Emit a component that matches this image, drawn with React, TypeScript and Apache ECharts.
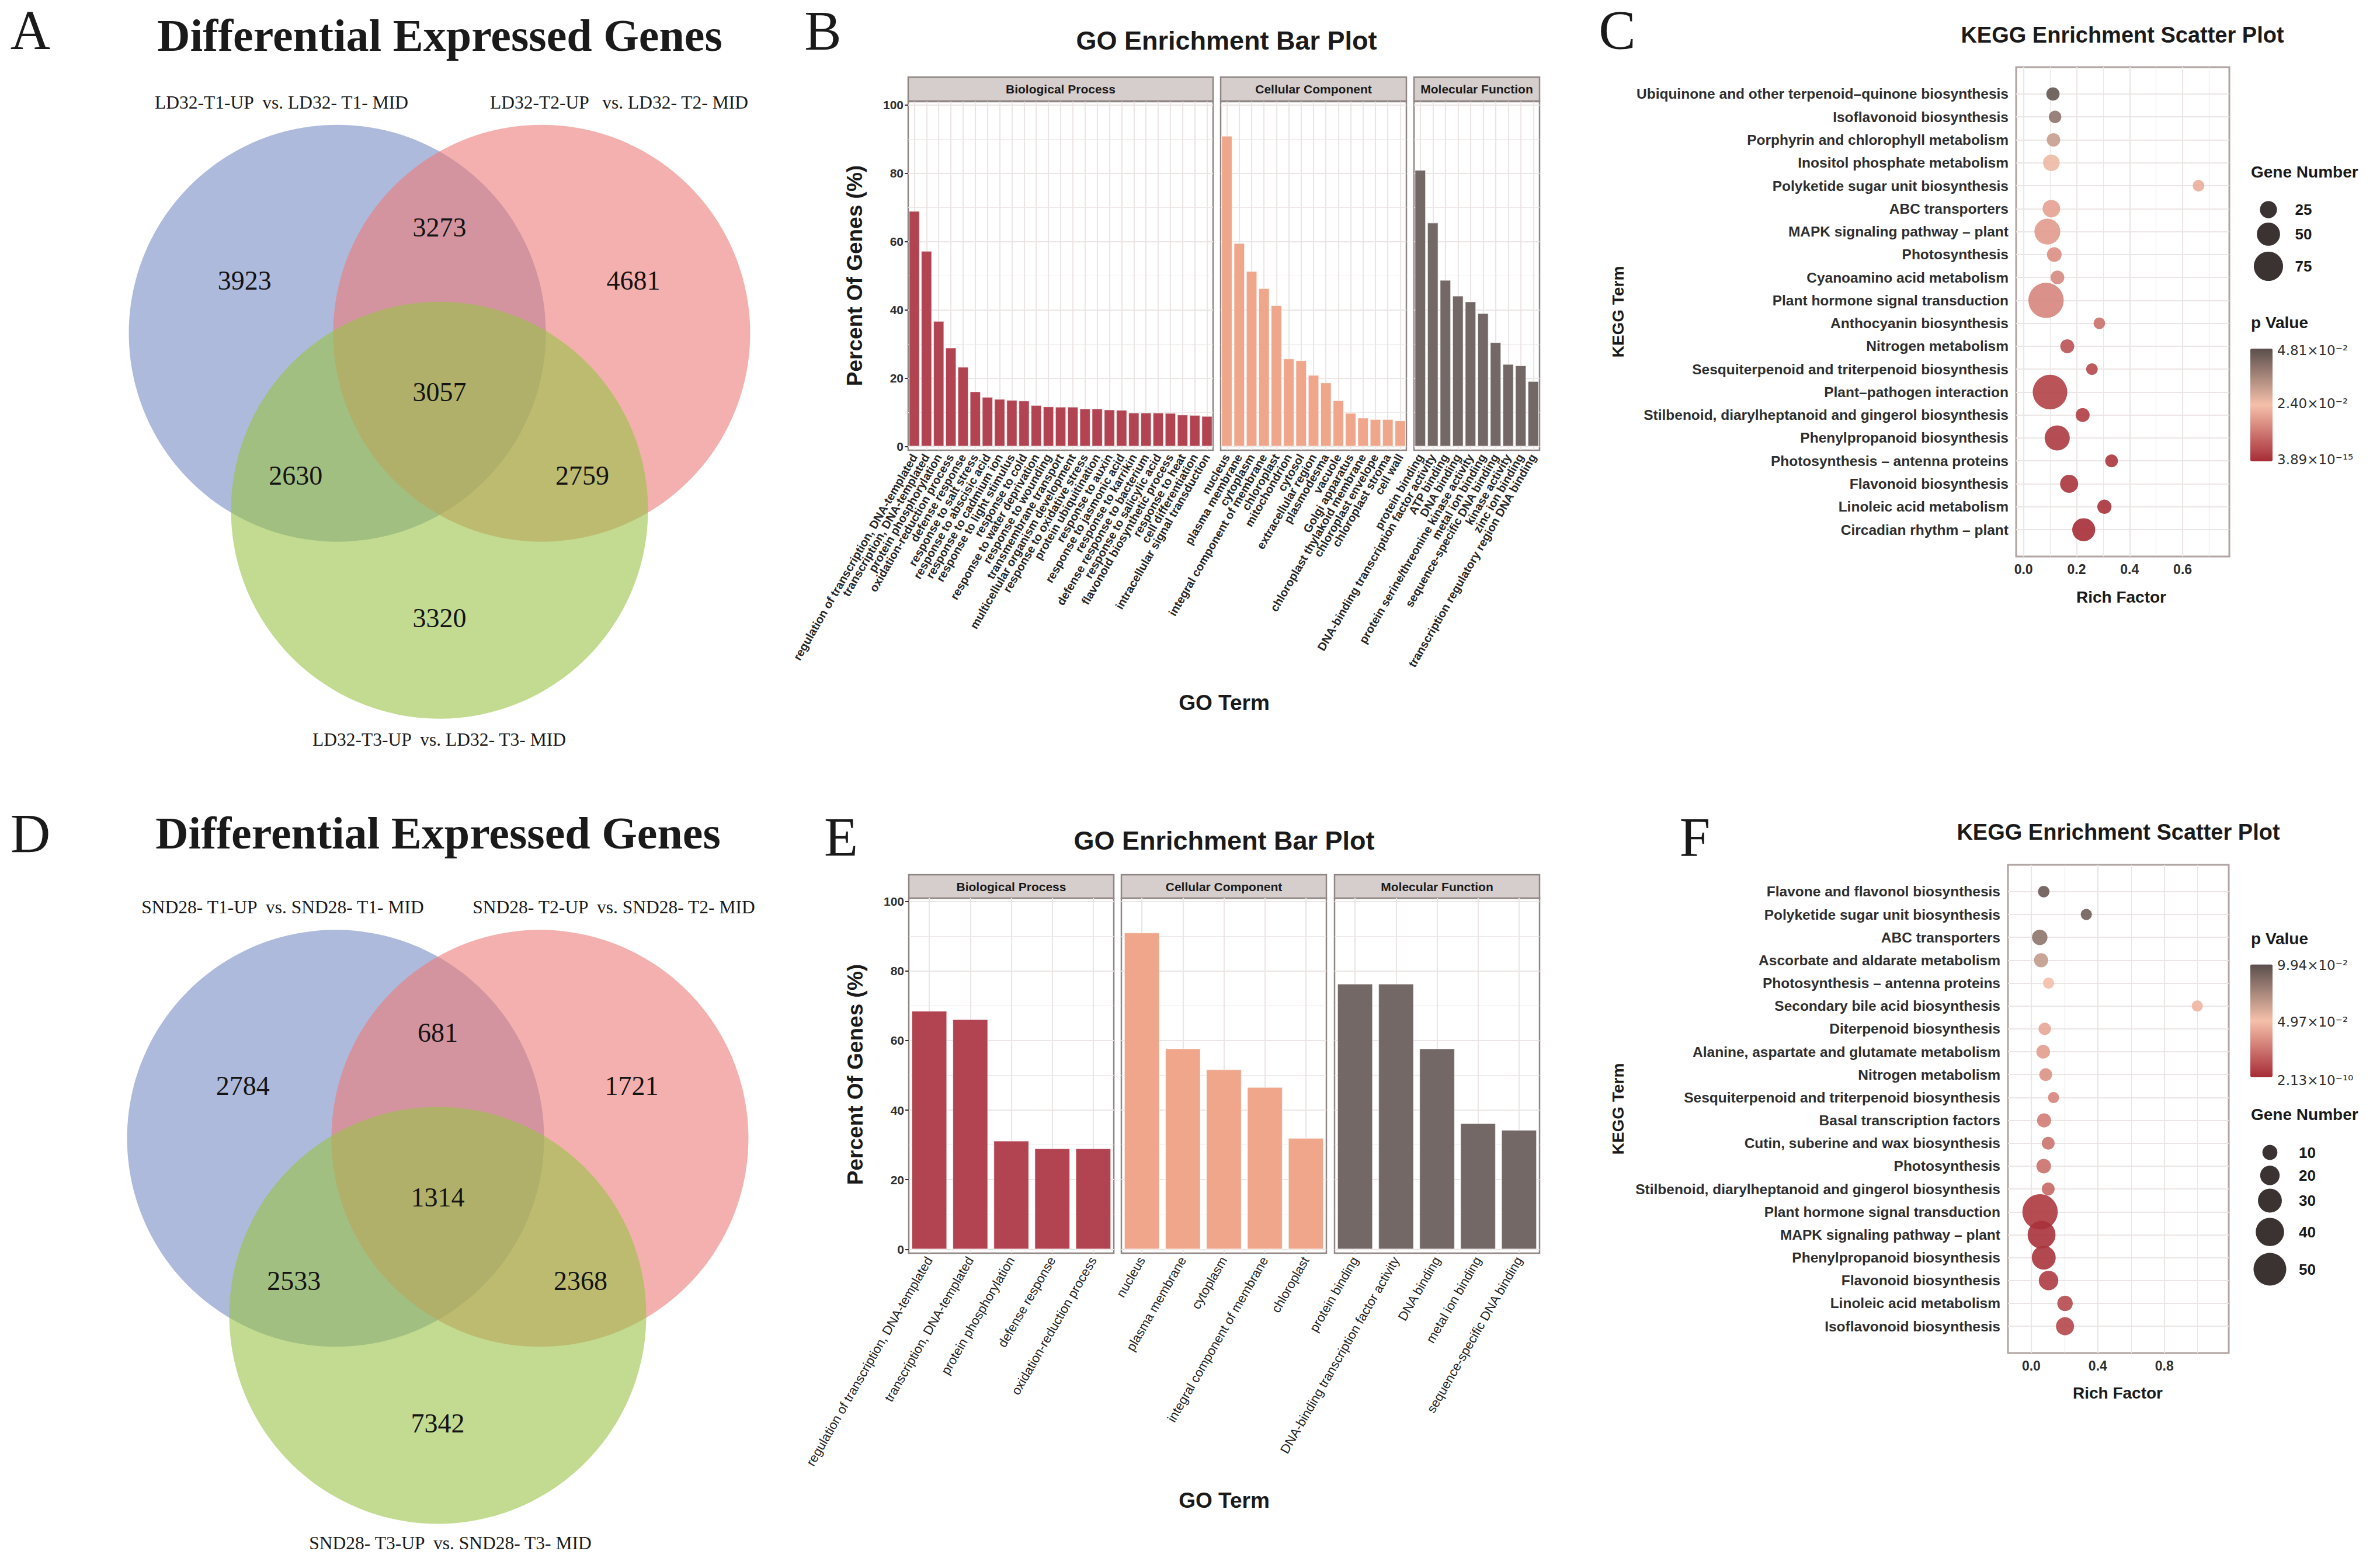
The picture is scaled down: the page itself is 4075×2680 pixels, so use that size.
import React, { useEffect, useRef } from "react";
import * as echarts from "echarts";

const W = 4075;
const H = 2680;
const SANS = '"Liberation Sans", Arial, Helvetica, sans-serif';
const SERIF = '"Liberation Serif", "Times New Roman", serif';
const MATH = '"DejaVu Sans", sans-serif';

// ---------------- Venn data ----------------
// region order: only1, 1∩2, only2, 1∩2∩3, 1∩3, 2∩3, only3
const vennSetsA = ["LD32-T1-UP  vs. LD32- T1- MID", "LD32-T2-UP   vs. LD32- T2- MID", "LD32-T3-UP  vs. LD32- T3- MID"];
const vennCountsA = [3923, 3273, 4681, 3057, 2630, 2759, 3320];
const vennSetsD = ["SND28- T1-UP  vs. SND28- T1- MID", "SND28- T2-UP  vs. SND28- T2- MID", "SND28- T3-UP  vs. SND28- T3- MID"];
const vennCountsD = [2784, 681, 1721, 1314, 2533, 2368, 7342];

// ---------------- GO (panel B) ----------------
const bpTermsB = [
  "regulation of transcription, DNA-templated", "transcription, DNA-templated", "protein phosphorylation",
  "oxidation-reduction process", "defense response", "response to salt stress", "response to abscisic acid",
  "response to cadmium ion", "response to light stimulus", "response to cold", "response to water deprivation",
  "response to wounding", "transmembrane transport", "multicellular organism development",
  "response to oxidative stress", "protein ubiquitination", "response to auxin", "response to jasmonic acid",
  "response to karrikin", "defense response to bacterium", "response to salicylic acid",
  "flavonoid biosynthetic process", "response to heat", "cell differentiation", "intracellular signal transduction",
];
const bpValuesB = [68.9, 57.2, 36.7, 28.9, 23.3, 16.1, 14.5, 13.9, 13.6, 13.4, 12.1, 11.7, 11.6, 11.6, 11.1, 11.1, 10.8, 10.7, 9.9, 9.9, 9.9, 9.8, 9.3, 9.2, 8.9];
const ccTermsB = [
  "nucleus", "plasma membrane", "cytoplasm", "integral component of membrane", "chloroplast", "mitochondrion",
  "cytosol", "extracellular region", "plasmodesma", "vacuole", "Golgi apparatus", "chloroplast thylakoid membrane",
  "chloroplast envelope", "chloroplast stroma", "cell wall",
];
const ccValuesB = [90.9, 59.5, 51.3, 46.3, 41.3, 25.7, 25.2, 20.9, 18.7, 13.5, 9.8, 8.4, 8.0, 8.0, 7.6];
const mfTermsB = [
  "protein binding", "DNA-binding transcription factor activity", "ATP binding", "DNA binding",
  "protein serine/threonine kinase activity", "metal ion binding", "sequence-specific DNA binding",
  "kinase activity", "zinc ion binding", "transcription regulatory region DNA binding",
];
const mfValuesB = [80.9, 65.5, 48.7, 44.1, 42.4, 39.0, 30.5, 24.1, 23.7, 19.1];

// ---------------- GO (panel E) ----------------
const bpTermsE = ["regulation of transcription, DNA-templated", "transcription, DNA-templated", "protein phosphorylation", "defense response", "oxidation-reduction process"];
const bpValuesE = [68.5, 66.1, 31.2, 29.0, 29.0];
const ccTermsE = ["nucleus", "plasma membrane", "cytoplasm", "integral component of membrane", "chloroplast"];
const ccValuesE = [91.0, 57.7, 51.7, 46.6, 32.0];
const mfTermsE = ["protein binding", "DNA-binding transcription factor activity", "DNA binding", "metal ion binding", "sequence-specific DNA binding"];
const mfValuesE = [76.3, 76.3, 57.7, 36.2, 34.3];

const facetNames = ["Biological Process", "Cellular Component", "Molecular Function"];
const percentTicks = [0, 20, 40, 60, 80, 100];
const percentMinor = [10, 30, 50, 70, 90];

// ---------------- KEGG (panel C) ----------------
const keggTermsC = [
  "Ubiquinone and other terpenoid–quinone biosynthesis", "Isoflavonoid biosynthesis",
  "Porphyrin and chlorophyll metabolism", "Inositol phosphate metabolism", "Polyketide sugar unit biosynthesis",
  "ABC transporters", "MAPK signaling pathway – plant", "Photosynthesis", "Cyanoamino acid metabolism",
  "Plant hormone signal transduction", "Anthocyanin biosynthesis", "Nitrogen metabolism",
  "Sesquiterpenoid and triterpenoid biosynthesis", "Plant–pathogen interaction",
  "Stilbenoid, diarylheptanoid and gingerol biosynthesis", "Phenylpropanoid biosynthesis",
  "Photosynthesis – antenna proteins", "Flavonoid biosynthesis", "Linoleic acid metabolism", "Circadian rhythm – plant",
];
const richC = [0.111, 0.119, 0.113, 0.105, 0.66, 0.105, 0.09, 0.116, 0.128, 0.085, 0.286, 0.165, 0.258, 0.1, 0.223, 0.127, 0.332, 0.172, 0.305, 0.227];
const genesC = [9, 6, 10, 23, 2, 27, 61, 15, 11, 100, 2, 12, 2, 97, 12, 58, 7, 29, 13, 49];
const pC = [0.0465, 0.04, 0.031, 0.0255, 0.021, 0.019, 0.018, 0.016, 0.015, 0.0145, 0.011, 0.006, 0.0045, 0.0035, 0.003, 0.0022, 0.0015, 0.0015, 0.001, 3.89e-15];
const pMaxC = 0.0481;
const pLabelsC = ["4.81×10⁻²", "2.40×10⁻²", "3.89×10⁻¹⁵"];
const geneLegendC = [25, 50, 75];
const richTicksC = [0, 0.2, 0.4, 0.6];
const richMinorC = [0.1, 0.3, 0.5, 0.7];

// ---------------- KEGG (panel F) ----------------
const keggTermsF = [
  "Flavone and flavonol biosynthesis", "Polyketide sugar unit biosynthesis", "ABC transporters",
  "Ascorbate and aldarate metabolism", "Photosynthesis – antenna proteins", "Secondary bile acid biosynthesis",
  "Diterpenoid biosynthesis", "Alanine, aspartate and glutamate metabolism", "Nitrogen metabolism",
  "Sesquiterpenoid and triterpenoid biosynthesis", "Basal transcription factors",
  "Cutin, suberine and wax biosynthesis", "Photosynthesis", "Stilbenoid, diarylheptanoid and gingerol biosynthesis",
  "Plant hormone signal transduction", "MAPK signaling pathway – plant", "Phenylpropanoid biosynthesis",
  "Flavonoid biosynthesis", "Linoleic acid metabolism", "Isoflavonoid biosynthesis",
];
const richF = [0.075, 0.331, 0.051, 0.059, 0.104, 0.998, 0.081, 0.072, 0.087, 0.134, 0.077, 0.102, 0.075, 0.102, 0.053, 0.062, 0.075, 0.104, 0.203, 0.203];
const genesF = [2, 1, 11, 8, 1, 1, 4, 7, 5, 1, 8, 5, 9, 5, 56, 39, 30, 20, 11, 17];
const pF = [0.094, 0.092, 0.083, 0.066, 0.05, 0.046, 0.041, 0.038, 0.034, 0.03, 0.027, 0.024, 0.023, 0.02, 0.004, 0.002, 0.003, 0.005, 0.01, 0.009];
const pMaxF = 0.0994;
const pLabelsF = ["9.94×10⁻²", "4.97×10⁻²", "2.13×10⁻¹⁰"];
const geneLegendF = [10, 20, 30, 40, 50];
const richTicksF = [0, 0.4, 0.8];
const richMinorF = [0.2, 0.6, 1.0];

// ---------------- styles ----------------
const BAR_COLORS = ["#b24452", "#efa68b", "#736866"];
const BAR_BORDER = "#8f8583";
const SC_BORDER = "#b0a4a1";
const GRIDC = "#ece5e5";
const STRIP_FILL = "#d6cecd";
const P_COLORS = ["#a62c36", "#f5c0aa", "#5a4e4c"];
const VENN_FILL = ["rgba(120,140,197,0.6)", "rgba(235,123,120,0.6)", "rgba(153,195,70,0.6)"];
const VENN_R = 357;
const VENN_CENTERS = [[-0.49, -0.283], [0.49, -0.283], [0, 0.566]];
const REGION_ANCHORS = [[-0.935, -0.535], [0, -0.79], [0.93, -0.535], [0, 0], [-0.69, 0.4], [0.685, 0.4], [0, 1.083]];

const sizeC = (n: number) => 19 + 0.414 * n;
const sizeF = (n: number) => 18.25 + 0.755 * n;

function buildOption() {
  const grid: any[] = [];
  const xAxis: any[] = [];
  const yAxis: any[] = [];
  const series: any[] = [];
  const graphic: any[] = [];
  const visualMap: any[] = [];

  const addGrid = (g: any, xa: any, ya: any) => {
    const i = grid.length;
    grid.push({ containLabel: false, ...g });
    xAxis.push({ gridIndex: i, ...xa });
    yAxis.push({ gridIndex: i, ...ya });
    return i;
  };

  const txt = (x: number, y: number, s: string, size: number, o: any = {}) => {
    const align = o.align || "center";
    graphic.push({
      type: "text",
      x,
      y: o.mid || o.rotate ? y : y - 0.34 * size,
      rotation: o.rotate || 0,
      silent: true,
      z: 10,
      style: {
        text: s,
        fill: o.color || "#1a1a1a",
        font: `${o.weight || "normal"} ${size}px ${o.family || SANS}`,
        align,
        textAlign: align,
        verticalAlign: "middle",
        textVerticalAlign: "middle",
      },
    });
  };

  const gridLines = (g: number, xs: [number, number][], ys: [number, number][]) => {
    series.push({
      type: "scatter",
      xAxisIndex: g,
      yAxisIndex: g,
      data: [],
      silent: true,
      z: 1,
      markLine: {
        z: 1,
        silent: true,
        symbol: ["none", "none"],
        label: { show: false },
        animation: false,
        lineStyle: { type: "solid", color: GRIDC },
        data: [
          ...xs.map(([v, w]) => ({ xAxis: v, lineStyle: { width: w, color: GRIDC, type: "solid" } })),
          ...ys.map(([v, w]) => ({ yAxis: v, lineStyle: { width: w, color: GRIDC, type: "solid" } })),
        ],
      },
    });
  };

  // ---------- Venn ----------
  const addVenn = (cx: number, cy: number, counts: number[]) => {
    const g = addGrid(
      { left: cx - 1.5 * VENN_R, top: cy - 1.5 * VENN_R, width: 3 * VENN_R, height: 3 * VENN_R, show: false },
      { type: "value", min: -1.5, max: 1.5, show: false },
      { type: "value", min: -1.5, max: 1.5, inverse: true, show: false }
    );
    series.push({
      type: "custom",
      xAxisIndex: g,
      yAxisIndex: g,
      silent: true,
      z: 1,
      data: VENN_CENTERS.map((c, i) => [c[0], c[1], i]),
      renderItem: (_p: any, api: any) => {
        const pt = api.coord([api.value(0), api.value(1)]);
        const r = api.size([1, 1])[0];
        return { type: "circle", shape: { cx: pt[0], cy: pt[1], r }, style: { fill: VENN_FILL[api.value(2)] } };
      },
    });
    series.push({
      type: "custom",
      xAxisIndex: g,
      yAxisIndex: g,
      silent: true,
      z: 3,
      data: counts.map((n, i) => [REGION_ANCHORS[i][0], REGION_ANCHORS[i][1], n]),
      renderItem: (_p: any, api: any) => {
        const pt = api.coord([api.value(0), api.value(1)]);
        return {
          type: "text",
          x: pt[0],
          y: pt[1],
          style: {
            text: String(api.value(2)),
            font: `normal 46px ${SERIF}`,
            fill: "#141414",
            align: "center",
            textAlign: "center",
            verticalAlign: "middle",
            textVerticalAlign: "middle",
          },
        };
      },
    });
  };

  addVenn(752.5, 671.7, vennCountsA);
  addVenn(749.5, 2050.4, vennCountsD);

  txt(52, 84, "A", 95, { family: SERIF });
  txt(753, 87, "Differential Expressed Genes", 78, { family: SERIF, weight: "bold" });
  txt(482, 186, vennSetsA[0], 31.5, { family: SERIF });
  txt(1060, 186, vennSetsA[1], 31.5, { family: SERIF });
  txt(752, 1277, vennSetsA[2], 31.5, { family: SERIF });

  txt(52, 1460, "D", 95, { family: SERIF });
  txt(750, 1453, "Differential Expressed Genes", 78, { family: SERIF, weight: "bold" });
  txt(484, 1564, vennSetsD[0], 31.5, { family: SERIF });
  txt(1051, 1564, vennSetsD[1], 31.5, { family: SERIF });
  txt(771, 2653, vennSetsD[2], 31.5, { family: SERIF });

  // ---------- GO bar facets ----------
  const gap = (n: number) => `${((1 - (0.9 * n) / (n + 0.2)) * 100).toFixed(1)}%`;
  const addBarFacet = (
    left: number, width: number, top: number, height: number, terms: string[], values: number[],
    color: string, showY: boolean, big: boolean, strip: string, stripTop: number, stripH: number
  ) => {
    const g = addGrid(
      { left, top, width, height, show: true, borderColor: BAR_BORDER, borderWidth: 2.5, backgroundColor: "#fff" },
      {
        type: "category",
        data: terms,
        boundaryGap: true,
        axisLine: { show: false },
        axisTick: { show: true, alignWithLabel: true, length: 6, lineStyle: { color: "#333", width: 2 } },
        axisLabel: {
          interval: 0,
          rotate: 60,
          margin: 8,
          fontSize: big ? 22 : 20,
          fontWeight: big ? "normal" : "bold",
          fontFamily: SANS,
          color: big ? "#222" : "#262626",
        },
        splitLine: { show: false },
      },
      {
        type: "value",
        min: -1.1,
        max: 100.9,
        axisLine: { show: false },
        splitLine: { show: false },
        axisTick: { show: showY, customValues: percentTicks, length: 6, lineStyle: { color: "#333", width: 2 } },
        axisLabel: {
          show: showY,
          customValues: percentTicks,
          margin: 8,
          fontSize: 21,
          fontWeight: "bold",
          fontFamily: SANS,
          color: "#2e2e2e",
          formatter: (v: number) => {
            const r = Math.round(v);
            return Math.abs(v - r) < 1e-6 && percentTicks.includes(r) ? String(r) : "";
          },
        },
      }
    );
    gridLines(
      g,
      terms.map((_t, i) => [i, 2.2] as [number, number]),
      [...percentTicks.map((v) => [v, 2.2] as [number, number]), ...percentMinor.map((v) => [v, 1.1] as [number, number])]
    );
    series.push({
      type: "bar",
      xAxisIndex: g,
      yAxisIndex: g,
      data: values,
      barCategoryGap: gap(terms.length),
      silent: true,
      z: 6,
      itemStyle: { color, borderColor: "rgba(255,255,255,0.55)", borderWidth: 1.2 },
    });
    graphic.push({
      type: "rect",
      silent: true,
      shape: { x: left, y: stripTop, width, height: stripH },
      style: { fill: STRIP_FILL, stroke: BAR_BORDER, lineWidth: 2.5 },
    });
    txt(left + width / 2, stripTop + stripH / 2, strip, 21, { weight: "bold", mid: true });
  };

  // Panel B
  addBarFacet(1555, 522, 174, 597, bpTermsB, bpValuesB, BAR_COLORS[0], true, false, facetNames[0], 132, 41);
  addBarFacet(2090, 318, 174, 597, ccTermsB, ccValuesB, BAR_COLORS[1], false, false, facetNames[1], 132, 41);
  addBarFacet(2421, 215, 174, 597, mfTermsB, mfValuesB, BAR_COLORS[2], false, false, facetNames[2], 132, 41);
  txt(1409, 85, "B", 95, { family: SERIF });
  txt(2100, 85, "GO Enrichment Bar Plot", 45, { weight: "bold" });
  txt(1463, 472, "Percent Of Genes (%)", 37, { weight: "bold", rotate: Math.PI / 2 });
  txt(2096, 1203, "GO Term", 37, { weight: "bold", mid: true });

  // Panel E
  addBarFacet(1556, 351, 1538, 608, bpTermsE, bpValuesE, BAR_COLORS[0], true, true, facetNames[0], 1498, 40);
  addBarFacet(1920, 351, 1538, 608, ccTermsE, ccValuesE, BAR_COLORS[1], false, true, facetNames[1], 1498, 40);
  addBarFacet(2285, 351, 1538, 608, mfTermsE, mfValuesE, BAR_COLORS[2], false, true, facetNames[2], 1498, 40);
  txt(1440, 1466, "E", 95, { family: SERIF });
  txt(2096, 1455, "GO Enrichment Bar Plot", 45, { weight: "bold" });
  txt(1464, 1840, "Percent Of Genes (%)", 37, { weight: "bold", rotate: Math.PI / 2 });
  txt(2096, 2569.5, "GO Term", 37, { weight: "bold", mid: true });

  // ---------- KEGG scatter facets ----------
  const addScatter = (
    left: number, top: number, width: number, height: number, terms: string[], rich: number[], genes: number[],
    p: number[], xMin: number, xMax: number, ticks: number[], minor: number[], sizeFn: (n: number) => number,
    pMax: number, barLeft: number, barTop: number
  ) => {
    const idx = terms.map((_t, i) => i);
    const g = addGrid(
      { left, top, width, height, show: true, borderColor: SC_BORDER, borderWidth: 3, backgroundColor: "#fff" },
      {
        type: "value",
        min: xMin,
        max: xMax,
        splitLine: { show: false },
        axisLine: { show: false },
        axisTick: { customValues: ticks, length: 6, lineStyle: { color: "#333", width: 2 } },
        axisLabel: {
          customValues: ticks,
          margin: 10,
          fontSize: 23,
          fontWeight: "bold",
          fontFamily: SANS,
          color: "#2e2e2e",
          formatter: (v: number) => (ticks.some((t) => Math.abs(t - v) < 1e-6) ? v.toFixed(1) : ""),
        },
      },
      {
        type: "value",
        min: -1.17,
        max: terms.length - 1 + 1.17,
        inverse: true,
        splitLine: { show: false },
        axisLine: { show: false },
        axisTick: { customValues: idx, length: 6, lineStyle: { color: "#333", width: 2 } },
        axisLabel: {
          customValues: idx,
          margin: 13,
          fontSize: 24.5,
          fontWeight: "bold",
          fontFamily: SANS,
          color: "#2e2e2e",
          formatter: (v: number) => {
            const r = Math.round(v);
            return Math.abs(v - r) < 1e-6 && terms[r] ? terms[r] : "";
          },
        },
      }
    );
    gridLines(
      g,
      [...ticks.map((v) => [v, 2.2] as [number, number]), ...minor.map((v) => [v, 1.1] as [number, number])],
      idx.map((i) => [i, 2.2] as [number, number])
    );
    const sIdx = series.length;
    series.push({
      type: "scatter",
      xAxisIndex: g,
      yAxisIndex: g,
      silent: true,
      z: 8,
      data: terms.map((_t, i) => [rich[i], i, p[i], genes[i]]),
      symbolSize: (v: number[]) => sizeFn(v[3]),
      itemStyle: { opacity: 0.9 },
    });
    visualMap.push({
      type: "continuous",
      seriesIndex: sIdx,
      dimension: 2,
      min: 0,
      max: pMax,
      inRange: { color: P_COLORS },
      orient: "vertical",
      left: barLeft,
      top: barTop,
      itemWidth: 38,
      itemHeight: 193,
      padding: 0,
      calculable: false,
      hoverLink: false,
      showLabel: false,
    });
  };

  // Panel C
  addScatter(3452, 115, 365, 838, keggTermsC, richC, genesC, pC, -0.0278, 0.776, richTicksC, richMinorC, sizeC, pMaxC, 3853, 597);
  txt(2769, 84, "C", 95, { family: SERIF });
  txt(3634, 72.5, "KEGG Enrichment Scatter Plot", 38, { weight: "bold" });
  txt(2770, 534, "KEGG Term", 28, { weight: "bold", rotate: Math.PI / 2 });
  txt(3632, 1022, "Rich Factor", 28, { weight: "bold", mid: true });
  txt(3854, 294, "Gene Number", 28, { weight: "bold", align: "left", mid: true });
  [359, 401, 456].forEach((y, i) => {
    graphic.push({ type: "circle", silent: true, shape: { cx: 3884, cy: y, r: sizeC(geneLegendC[i]) / 2 }, style: { fill: "#3b3331" } });
    txt(3929.5, y, String(geneLegendC[i]), 26, { weight: "bold", align: "left", mid: true });
  });
  txt(3854, 552, "p Value", 28, { weight: "bold", align: "left", mid: true });
  [600, 691, 787].forEach((y, i) => txt(3899, y, pLabelsC[i], 23, { family: MATH, align: "left", mid: true, color: "#2e2e2e" }));

  // Panel F
  addScatter(3438, 1481, 378, 836, keggTermsF, richF, genesF, pF, -0.14, 1.187, richTicksF, richMinorF, sizeF, pMaxF, 3853, 1651.5);
  txt(2902, 1466, "F", 95, { family: SERIF });
  txt(3627, 1438, "KEGG Enrichment Scatter Plot", 38, { weight: "bold" });
  txt(2770, 1899, "KEGG Term", 28, { weight: "bold", rotate: Math.PI / 2 });
  txt(3626, 2385.5, "Rich Factor", 28, { weight: "bold", mid: true });
  txt(3854, 1607, "p Value", 28, { weight: "bold", align: "left", mid: true });
  [1653, 1750, 1849.5].forEach((y, i) => txt(3899, y, pLabelsF[i], 23, { family: MATH, align: "left", mid: true, color: "#2e2e2e" }));
  txt(3854, 1908, "Gene Number", 28, { weight: "bold", align: "left", mid: true });
  [1973.5, 2012.8, 2056, 2109.7, 2173.5].forEach((y, i) => {
    graphic.push({ type: "circle", silent: true, shape: { cx: 3886.5, cy: y, r: sizeF(geneLegendF[i]) / 2 }, style: { fill: "#3b3331" } });
    txt(3936, y, String(geneLegendF[i]), 26, { weight: "bold", align: "left", mid: true });
  });

  return {
    animation: false,
    backgroundColor: "#ffffff",
    textStyle: { fontFamily: SANS },
    grid,
    xAxis,
    yAxis,
    series,
    visualMap,
    graphic: { elements: graphic },
  };
}

export default function App() {
  const ref = useRef<HTMLDivElement>(null);
  useEffect(() => {
    document.body.style.margin = "0";
    document.body.style.overflow = "hidden";
    const chart = echarts.init(ref.current as HTMLDivElement, null, { renderer: "svg", width: W, height: H });
    chart.setOption(buildOption() as any);
    return () => chart.dispose();
  }, []);
  return <div ref={ref} style={{ width: W, height: H, background: "#fff" }} />;
}
